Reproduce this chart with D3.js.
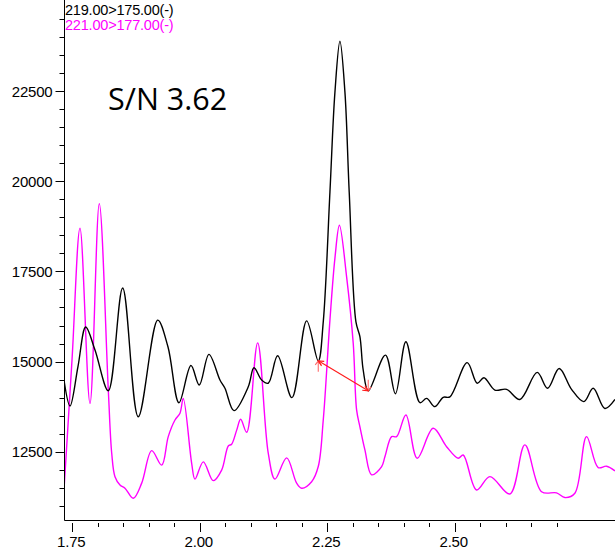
<!DOCTYPE html>
<html>
<head>
<meta charset="utf-8">
<script src="https://cdn.jsdelivr.net/npm/d3@7"></script>
<style>
  body { margin: 0; background: #fff; }
  svg { display: block; }
  text { font-family: "Liberation Sans", Arial, sans-serif; }
</style>
</head>
<body>
<svg id="chart" width="615" height="552"></svg>
<script>
// MRM transitions (precursor > product)
const traceNames = ["219.00>175.00(-)", "221.00>177.00(-)"];
const traceColors = ["#000000", "#ff00ff"];

// 219.00>175.00 trace: retention time (min), intensity
const timeA = [1.7337, 1.7455, 1.7612, 1.7763, 1.7945, 1.8206, 1.8488, 1.8794, 1.9175, 1.9376,
  1.9592, 1.9827, 1.9990, 2.0180, 2.0396, 2.0494, 2.0671, 2.0951, 2.1063, 2.1214,
  2.1343, 2.1527, 2.1808, 2.2096, 2.2324, 2.2422, 2.2553, 2.2651, 2.2749, 2.2847,
  2.2931, 2.3063, 2.3141, 2.3206, 2.3304, 2.3641, 2.3837, 2.4043, 2.4318, 2.4449,
  2.4612, 2.4775, 2.4906, 2.5245, 2.5441, 2.5573, 2.5788, 2.6018, 2.6278, 2.6618,
  2.6822, 2.7049, 2.7292, 2.7533, 2.7716, 2.7945, 2.8143];
const intensityA = [14490, 13770, 14870, 15960, 15320, 14190, 17040, 13470, 16150, 15410,
  13860, 14890, 14350, 15200, 14490, 14260, 13640, 14300, 14830, 14490,
  14400, 15160, 14000, 16130, 15020, 16100, 19700, 22470, 23880, 22470,
  19700, 16100, 15690, 14760, 14190, 15180, 14110, 15550, 13860, 13980,
  13750, 14010, 14020, 14970, 14400, 14550, 14210, 14230, 13950, 14700,
  14260, 14810, 14230, 13890, 14260, 13700, 13950];

// 221.00>177.00 trace: retention time (min), intensity
const timeB = [1.7337, 1.7494, 1.7651, 1.7847, 1.8029, 1.8206, 1.8273, 1.8337, 1.8435, 1.8533,
  1.8696, 1.8861, 1.9057, 1.9253, 1.9382, 1.9514, 1.9612, 1.9676, 1.9841, 1.9906,
  2.0069, 2.0265, 2.0429, 2.0559, 2.0625, 2.0724, 2.0802, 2.0920, 2.1135, 2.1343,
  2.1475, 2.1704, 2.1900, 2.1998, 2.2194, 2.2324, 2.2422, 2.2553, 2.2651, 2.2739,
  2.2880, 2.3010, 2.3076, 2.3141, 2.3239, 2.3371, 2.3567, 2.3631, 2.3763, 2.3861,
  2.4043, 2.4265, 2.4578, 2.4841, 2.5069, 2.5167, 2.5429, 2.5690, 2.6082, 2.6376,
  2.6704, 2.6998, 2.7161, 2.7357, 2.7586, 2.7814, 2.7978, 2.8143];
const intensityB = [11440, 15040, 18700, 13840, 19380, 14210, 12460, 11810, 11580, 11490,
  11210, 11630, 12530, 12130, 12920, 13380, 13570, 13980, 12180, 11740,
  12220, 11700, 11990, 12660, 12710, 13100, 13400, 13040, 15520, 12460,
  11740, 12330, 11630, 11490, 11670, 12090, 13380, 16150, 17870, 18780,
  17350, 15500, 13660, 13190, 12550, 11860, 12090, 12360, 12920, 12920,
  13520, 12320, 13150, 12640, 12320, 12410, 11440, 11810, 11330, 12690,
  11390, 11360, 11230, 11350, 12920, 12060, 12100, 11970];

// Axis ticks
const xMajorTicks = [1.75, 2.00, 2.25, 2.50];
const xMinorTicks = [1.80, 1.85, 1.90, 1.95, 2.05, 2.10, 2.15, 2.20, 2.30, 2.35, 2.40, 2.45,
  2.55, 2.60, 2.65, 2.70];
const yMajorTicks = [12500, 15000, 17500, 20000, 22500];
const yMinorTicks = [11000, 11500, 12000, 13000, 13500, 14000, 14500, 15500, 16000, 16500,
  17000, 18000, 18500, 19000, 19500, 20500, 21000, 21500, 22000, 23000, 23500, 24000, 24500];

// Signal-to-noise annotation: noise reference points on the 219>175 trace
const snLabel = "S/N 3.62";
const noiseTimes = [2.2324, 2.3304];
const noiseLevels = [15021, 14190];

const svg = d3.select("#chart");
const plotLeft = 64.5, plotRight = 615, plotTop = 0, plotBottom = 520.5;

const x = d3.scaleLinear().domain([1.7343, 2.8143]).range([64.3, 614.95]);
const y = d3.scaleLinear().domain([10608, 25025]).range([520, 0]);

svg.append("defs").append("clipPath").attr("id", "plot-clip")
  .append("rect").attr("x", plotLeft).attr("y", plotTop)
  .attr("width", plotRight - plotLeft).attr("height", plotBottom - plotTop);

const line = d3.line()
  .x(d => x(d[0]))
  .y(d => y(d[1]))
  .curve(d3.curveCatmullRom.alpha(0.5));

const plot = svg.append("g").attr("clip-path", "url(#plot-clip)");

const seriesA = timeA.map((t, i) => [t, intensityA[i]]);
const seriesB = timeB.map((t, i) => [t, intensityB[i]]);

plot.append("path").datum(seriesB)
  .attr("fill", "none").attr("stroke", traceColors[1]).attr("stroke-width", 1.4)
  .attr("d", line);
plot.append("path").datum(seriesA)
  .attr("fill", "none").attr("stroke", traceColors[0]).attr("stroke-width", 1.4)
  .attr("d", line);

// Noise arrow between the two reference points
const p0 = [x(noiseTimes[0]), y(noiseLevels[0])];
const p1 = [x(noiseTimes[1]), y(noiseLevels[1])];
const arrow = svg.append("g").attr("fill", "none").attr("stroke-width", 1.1);
arrow.append("line")
  .attr("x1", p0[0]).attr("y1", p0[1]).attr("x2", p1[0]).attr("y2", p1[1])
  .attr("stroke", "#ff1a1a");
// upward marker at the first point
arrow.append("path")
  .attr("stroke", "#ff6a6a")
  .attr("d", `M${p0[0]},${p0[1] + 11}L${p0[0]},${p0[1]}M${p0[0] - 3},${p0[1] + 4}L${p0[0]},${p0[1]}L${p0[0] + 3},${p0[1] + 4}`);
// downward marker at the second point
arrow.append("path")
  .attr("stroke", "#ff6a6a")
  .attr("d", `M${p1[0]},${p1[1] - 11}L${p1[0]},${p1[1]}M${p1[0] - 3},${p1[1] - 4}L${p1[0]},${p1[1]}L${p1[0] + 3},${p1[1] - 4}`);
// heads along the connecting line
const ang = Math.atan2(p1[1] - p0[1], p1[0] - p0[0]);
function head(p, a) {
  const l = 6, s = 0.45;
  return `M${p[0] + l * Math.cos(a + s)},${p[1] + l * Math.sin(a + s)}L${p[0]},${p[1]}L${p[0] + l * Math.cos(a - s)},${p[1] + l * Math.sin(a - s)}`;
}
arrow.append("path").attr("stroke", "#ff1a1a").attr("d", head(p0, ang));
arrow.append("path").attr("stroke", "#ff1a1a").attr("d", head(p1, ang + Math.PI));

// Axes
const axes = svg.append("g").attr("stroke", "#000").attr("stroke-width", 1);
axes.append("line").attr("x1", plotLeft).attr("y1", 0).attr("x2", plotLeft).attr("y2", plotBottom);
axes.append("line").attr("x1", plotLeft).attr("y1", plotBottom).attr("x2", plotRight).attr("y2", plotBottom);

axes.selectAll(".ymaj").data(yMajorTicks).join("line")
  .attr("x1", plotLeft - 9).attr("x2", plotLeft)
  .attr("y1", d => Math.round(y(d)) + 0.5).attr("y2", d => Math.round(y(d)) + 0.5);
axes.selectAll(".ymin").data(yMinorTicks).join("line")
  .attr("x1", plotLeft - 5).attr("x2", plotLeft)
  .attr("y1", d => Math.round(y(d)) + 0.5).attr("y2", d => Math.round(y(d)) + 0.5);

axes.selectAll(".xmaj").data(xMajorTicks).join("line")
  .attr("x1", d => Math.round(x(d)) + 0.5).attr("x2", d => Math.round(x(d)) + 0.5)
  .attr("y1", plotBottom + 2.5).attr("y2", plotBottom + 11.5);
axes.selectAll(".xmin").data(xMinorTicks).join("line")
  .attr("x1", d => Math.round(x(d)) + 0.5).attr("x2", d => Math.round(x(d)) + 0.5)
  .attr("y1", plotBottom + 2.5).attr("y2", plotBottom + 6.5);

const labels = svg.append("g").attr("fill", "#000")
  .style("font-size", "15px").style("letter-spacing", "-0.2px");
labels.selectAll(".ylab").data(yMajorTicks).join("text")
  .attr("x", plotLeft - 12).attr("y", d => y(d) + 5.5)
  .attr("text-anchor", "end")
  .text(d => d3.format("d")(d));
labels.selectAll(".xlab").data(xMajorTicks).join("text")
  .attr("x", d => x(d) - 1).attr("y", plotBottom + 26)
  .attr("text-anchor", "middle")
  .text(d => d3.format(".2f")(d));

// Legend
const legend = svg.append("g").style("font-size", "14.5px").style("letter-spacing", "-0.2px");
legend.selectAll("text").data(traceNames).join("text")
  .attr("x", 65).attr("y", (d, i) => 15 + i * 15)
  .attr("fill", (d, i) => traceColors[i])
  .text(d => d);

// S/N annotation
svg.append("text")
  .attr("x", 108).attr("y", 110)
  .style("font-family", "'Open Sans', 'Noto Sans', sans-serif")
  .style("font-size", "30.5px")
  .attr("fill", "#000")
  .text(snLabel);
</script>
</body>
</html>
